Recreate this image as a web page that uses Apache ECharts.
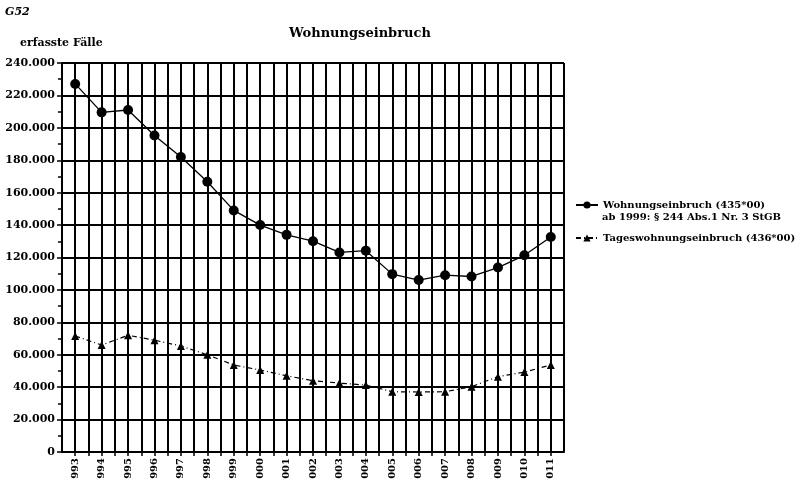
<!DOCTYPE html>
<html>
<head>
<meta charset="utf-8">
<script src="https://cdn.jsdelivr.net/npm/echarts@6/dist/echarts.min.js"></script>
<style>
  html, body { margin: 0; padding: 0; background: #fff; }
  #main { width: 812px; height: 487px; }
</style>
</head>
<body>
<div id="main"></div>
<script>
// Jahre und erfasste Faelle
var years = [1993, 1994, 1995, 1996, 1997, 1998, 1999, 2000, 2001, 2002,
             2003, 2004, 2005, 2006, 2007, 2008, 2009, 2010, 2011];
var yearLabels = ['993', '994', '995', '996', '997', '998', '999', '000', '001', '002',
                  '003', '004', '005', '006', '007', '008', '009', '010', '011'];
var wohnung = [227090, 209553, 211011, 195218, 182006, 166753, 149044, 140015, 133966, 130055,
               123120, 124225, 109736, 106107, 109096, 108284, 113800, 121347, 132595];
var tages = [71600, 66000, 72000, 69000, 65400, 60000, 53700, 50600, 47000, 44000,
             42500, 41300, 37200, 37000, 37200, 40300, 46500, 49300, 53700];

var font = 'DejaVu Serif, Liberation Serif, serif';

function pairs(vals) {
  return years.map(function (y, i) { return [y, vals[i]]; });
}

var chart = echarts.init(document.getElementById('main'));
chart.setOption({
  backgroundColor: '#fff',
  animation: false,
  title: [
    { text: 'G52', left: 0, top: 2, textStyle: { fontFamily: font, fontSize: 11, fontWeight: 'bold', fontStyle: 'italic', color: '#000' } },
    { text: 'erfasste Fälle', left: 15, top: 33, textStyle: { fontFamily: font, fontSize: 11, fontWeight: 'bold', color: '#000' } },
    { text: 'Wohnungseinbruch', left: 284, top: 22, textStyle: { fontFamily: font, fontSize: 13, fontWeight: 'bold', color: '#000' } }
  ],
  legend: {
    orient: 'vertical',
    left: 575,
    top: 200,
    padding: 0,
    itemWidth: 22,
    itemHeight: 9,
    itemGap: 23,
    textStyle: { fontFamily: font, fontSize: 10, fontWeight: 'bold', color: '#000' },
    data: ['Wohnungseinbruch (435*00)', 'Tageswohnungseinbruch (436*00)']
  },
  graphic: [
    { type: 'text', left: 602, top: 212, style: { text: 'ab 1999: § 244 Abs.1 Nr. 3 StGB', font: 'bold 10px ' + font, fill: '#000' } }
  ],
  grid: { left: 62, right: 248, top: 63, bottom: 35 },
  xAxis: {
    type: 'value',
    min: 1992.5,
    max: 2011.5,
    interval: 0.5,
    axisLine: { onZero: false, lineStyle: { color: '#000', width: 2 } },
    axisTick: { show: true, length: 4, lineStyle: { color: '#000', width: 1.5 } },
    splitLine: { show: true, lineStyle: { color: '#000', width: 2 } },
    axisLabel: {
      rotate: 90,
      margin: 6,
      fontFamily: font,
      fontSize: 10,
      fontWeight: 'bold',
      color: '#000',
      showMinLabel: false,
      showMaxLabel: false,
      formatter: function (v) {
        var i = years.indexOf(v);
        return i >= 0 ? yearLabels[i] : '';
      }
    }
  },
  yAxis: {
    type: 'value',
    min: 0,
    max: 240000,
    interval: 20000,
    axisLine: { show: true, lineStyle: { color: '#000', width: 2 } },
    axisTick: { show: true, length: 5, lineStyle: { color: '#000', width: 1.5 } },
    minorTick: { show: true, splitNumber: 2, length: 4, lineStyle: { color: '#000', width: 1.5 } },
    splitLine: { show: true, lineStyle: { color: '#000', width: 2 } },
    axisLabel: {
      fontFamily: font,
      fontSize: 11,
      fontWeight: 'bold',
      color: '#000',
      margin: 7,
      formatter: function (v) {
        return v === 0 ? '0' : String(v).replace(/\B(?=(\d{3})+(?!\d))/g, '.');
      }
    }
  },
  series: [
    {
      name: 'Wohnungseinbruch (435*00)',
      type: 'line',
      data: pairs(wohnung),
      symbol: 'circle',
      symbolSize: 10,
      itemStyle: { color: '#000' },
      lineStyle: { color: '#000', width: 1.3 },
      z: 3
    },
    {
      name: 'Tageswohnungseinbruch (436*00)',
      type: 'line',
      data: pairs(tages),
      symbol: 'triangle',
      symbolSize: 8,
      itemStyle: { color: '#000' },
      lineStyle: { color: '#000', width: 1.2, type: [5, 3, 1, 3] },
      z: 3
    }
  ]
});
</script>
</body>
</html>
